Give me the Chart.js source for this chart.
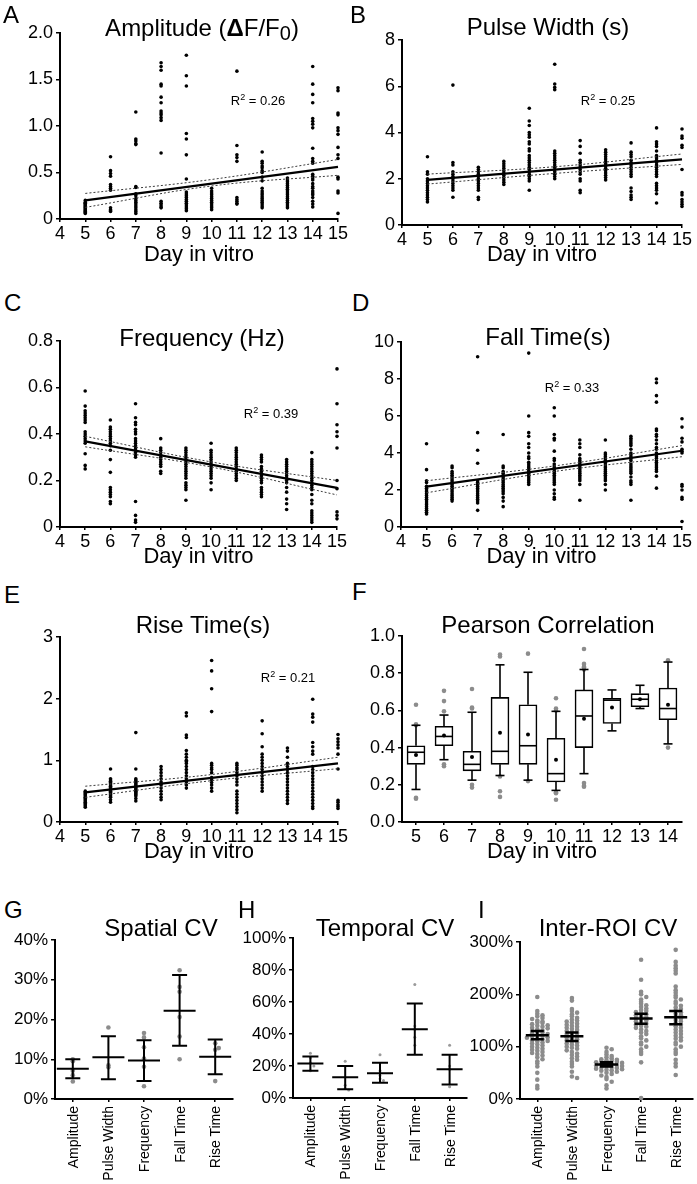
<!DOCTYPE html>
<html>
<head>
<meta charset="utf-8">
<title>Calcium pulse properties vs day in vitro</title>
<script src="https://cdn.jsdelivr.net/npm/chart.js@4.4.1/dist/chart.umd.min.js"></script>
<style>
  body { margin: 0; width: 697px; height: 1184px; position: relative; overflow: hidden; background: #fff;
         font-family: "Liberation Sans", Arial, sans-serif; color: #000; }
  canvas { position: absolute; }
  .txt { position: absolute; white-space: nowrap; transform: translate(-50%, -50%); line-height: 1; z-index: 2; }
  .letter { position: absolute; font-size: 24px; line-height: 1; transform: translateY(-50%); z-index: 2; }
  .title { font-size: 24px; }
  .r2 { font-size: 13px; }
  .r2 sup { font-size: 9px; vertical-align: 5px; line-height: 0; }
  .sub { font-size: 20px; position: relative; top: 4px; }
  .vlab { position: absolute; font-size: 14px; line-height: 14px; writing-mode: vertical-rl;
          transform: rotate(180deg); white-space: nowrap; z-index: 2; }
</style>
</head>
<body>
<div class="letter" style="left:3px;top:15px">A</div>
<div class="letter" style="left:350px;top:15px">B</div>
<div class="letter" style="left:4px;top:303px">C</div>
<div class="letter" style="left:352px;top:303px">D</div>
<div class="letter" style="left:4px;top:595px">E</div>
<div class="letter" style="left:352px;top:592px">F</div>
<div class="letter" style="left:4px;top:910px">G</div>
<div class="letter" style="left:238px;top:910px">H</div>
<div class="letter" style="left:478px;top:910px">I</div>

<div class="txt title" style="left:202px;top:28px">Amplitude (<b>&Delta;</b>F/F<span class="sub">0</span>)</div>
<div class="txt title" style="left:548px;top:27px">Pulse Width (s)</div>
<div class="txt title" style="left:202px;top:338px">Frequency (Hz)</div>
<div class="txt title" style="left:548px;top:337px">Fall Time(s)</div>
<div class="txt title" style="left:203px;top:625px">Rise Time(s)</div>
<div class="txt title" style="left:548px;top:625px">Pearson Correlation</div>
<div class="txt title" style="left:161px;top:928px">Spatial CV</div>
<div class="txt title" style="left:385px;top:928px">Temporal CV</div>
<div class="txt title" style="left:608px;top:928px">Inter-ROI CV</div>

<div class="txt r2" style="left:258px;top:100px">R<sup>2</sup> = 0.26</div>
<div class="txt r2" style="left:608px;top:100px">R<sup>2</sup> = 0.25</div>
<div class="txt r2" style="left:271px;top:413px">R<sup>2</sup> = 0.39</div>
<div class="txt r2" style="left:572px;top:387px">R<sup>2</sup> = 0.33</div>
<div class="txt r2" style="left:288px;top:677px">R<sup>2</sup> = 0.21</div>

<script>
// ---- data: panels A-E, one list of values per day in vitro ----
const days = [5, 6, 7, 8, 9, 10, 11, 12, 13, 14, 15];
const fitDays = [5, 15];
const bandDays = [5, 10, 15];

const ampByDay = [
  [0.20, 0.18, 0.17, 0.16, 0.15, 0.14, 0.13, 0.12, 0.11, 0.10, 0.09, 0.08, 0.07, 0.06],
  [0.67, 0.52, 0.49, 0.46, 0.37, 0.35, 0.33, 0.31, 0.12, 0.10, 0.09, 0.08],
  [1.15, 0.86, 0.84, 0.81, 0.80, 0.35, 0.34, 0.27, 0.25, 0.22, 0.20, 0.18, 0.16, 0.14, 0.12, 0.10, 0.08, 0.06],
  [1.68, 1.64, 1.60, 1.45, 1.43, 1.31, 1.25, 1.16, 1.14, 1.12, 1.09, 1.06, 0.71, 0.19, 0.17, 0.15, 0.13, 0.12],
  [1.76, 1.54, 1.43, 0.92, 0.86, 0.69, 0.43, 0.29, 0.27, 0.25, 0.23, 0.21, 0.19, 0.17, 0.15, 0.13, 0.11, 0.09],
  [0.33, 0.30, 0.28, 0.26, 0.24, 0.22, 0.20, 0.18, 0.16, 0.14, 0.12, 0.10],
  [1.59, 0.79, 0.69, 0.66, 0.62, 0.23, 0.21, 0.19, 0.17, 0.16],
  [0.72, 0.62, 0.60, 0.57, 0.55, 0.52, 0.50, 0.45, 0.41, 0.33, 0.30, 0.28, 0.26, 0.24, 0.22, 0.20, 0.18, 0.16, 0.14, 0.12],
  [0.44, 0.42, 0.40, 0.38, 0.36, 0.34, 0.32, 0.30, 0.28, 0.26, 0.24, 0.22, 0.20, 0.18, 0.16, 0.14, 0.12],
  [1.64, 1.45, 1.34, 1.25, 1.08, 1.05, 1.02, 0.98, 0.76, 0.65, 0.62, 0.60, 0.48, 0.46, 0.44, 0.42, 0.38, 0.35, 0.33, 0.30, 0.28, 0.26, 0.23, 0.19, 0.16, 0.13],
  [1.41, 1.38, 1.14, 1.12, 0.98, 0.95, 0.91, 0.77, 0.69, 0.65, 0.45, 0.43, 0.30, 0.28, 0.06]
];
const ampFit = [0.20, 0.56];
const ampUpper = [0.275, 0.425, 0.64];
const ampLower = [0.125, 0.355, 0.47];

const widthByDay = [
  [2.95, 2.3, 2.2, 2.0, 1.9, 1.8, 1.7, 1.6, 1.5, 1.4, 1.3, 1.2, 1.1, 1.0],
  [6.05, 2.7, 2.6, 2.3, 2.2, 2.1, 2.0, 1.9, 1.8, 1.7, 1.6, 1.5, 1.2],
  [2.5, 2.4, 2.3, 2.2, 2.1, 2.0, 1.9, 1.8, 1.7, 1.6, 1.5, 1.2, 1.1],
  [2.75, 2.65, 2.55, 2.45, 2.35, 2.25, 2.15, 2.05, 1.95, 1.85, 1.75],
  [5.05, 4.5, 4.3, 4.0, 3.9, 3.8, 3.6, 3.5, 3.3, 3.2, 3.0, 2.9, 2.8, 2.7, 2.6, 2.5, 2.4, 2.3, 2.2, 2.1, 2.0, 1.9, 1.5],
  [6.95, 6.1, 5.95, 5.85, 3.2, 3.1, 3.0, 2.9, 2.8, 2.7, 2.6, 2.5, 2.4, 2.3, 2.2, 2.1, 2.0],
  [3.65, 3.4, 3.1, 2.8, 2.7, 2.6, 2.5, 2.4, 2.3, 2.2, 2.0, 1.9, 1.5, 1.4],
  [3.25, 3.15, 3.05, 2.95, 2.85, 2.75, 2.65, 2.55, 2.45, 2.35, 2.25, 2.15, 2.05, 1.95],
  [3.55, 3.15, 3.05, 2.95, 2.8, 2.7, 2.6, 2.5, 2.4, 2.3, 2.2, 2.1, 1.6, 1.45, 1.3, 1.2, 1.1],
  [4.2, 3.6, 3.5, 3.4, 3.2, 3.0, 2.9, 2.8, 2.7, 2.6, 2.5, 2.4, 2.3, 2.2, 2.1, 1.8, 1.7, 1.6, 1.5, 1.35, 0.95],
  [4.15, 3.85, 3.75, 3.45, 3.35, 2.4, 1.4, 1.3, 1.1, 1.0, 0.9, 0.8]
];
const widthFit = [1.95, 2.84];
const widthUpper = [2.2, 2.52, 3.07];
const widthLower = [1.77, 2.23, 2.62];

const freqByDay = [
  [0.585, 0.52, 0.50, 0.49, 0.48, 0.47, 0.46, 0.45, 0.41, 0.40, 0.39, 0.38, 0.37, 0.36, 0.315, 0.265, 0.25],
  [0.46, 0.43, 0.42, 0.41, 0.40, 0.39, 0.38, 0.37, 0.36, 0.35, 0.33, 0.29, 0.235, 0.17, 0.16, 0.15, 0.14, 0.13, 0.11, 0.10],
  [0.53, 0.47, 0.45, 0.44, 0.42, 0.41, 0.40, 0.38, 0.37, 0.36, 0.35, 0.34, 0.33, 0.32, 0.31, 0.30, 0.11, 0.05, 0.03, 0.02],
  [0.38, 0.34, 0.33, 0.32, 0.31, 0.30, 0.29, 0.28, 0.27, 0.26, 0.24, 0.23],
  [0.34, 0.33, 0.32, 0.31, 0.30, 0.29, 0.28, 0.27, 0.26, 0.25, 0.24, 0.23, 0.22, 0.21, 0.19, 0.18, 0.17, 0.16, 0.115],
  [0.36, 0.33, 0.32, 0.31, 0.30, 0.29, 0.28, 0.27, 0.26, 0.25, 0.24, 0.23, 0.22, 0.21, 0.19, 0.16],
  [0.34, 0.33, 0.32, 0.31, 0.30, 0.29, 0.28, 0.27, 0.26, 0.25, 0.24, 0.23, 0.22, 0.21, 0.20],
  [0.31, 0.30, 0.29, 0.28, 0.26, 0.25, 0.24, 0.23, 0.22, 0.21, 0.20, 0.19, 0.17, 0.16, 0.15, 0.14, 0.13],
  [0.29, 0.28, 0.27, 0.26, 0.25, 0.24, 0.23, 0.22, 0.21, 0.20, 0.19, 0.17, 0.15, 0.12, 0.10, 0.075],
  [0.32, 0.29, 0.28, 0.27, 0.26, 0.25, 0.24, 0.23, 0.22, 0.21, 0.20, 0.19, 0.18, 0.17, 0.16, 0.14, 0.115, 0.10, 0.07, 0.06, 0.05, 0.04, 0.03, 0.02],
  [0.68, 0.53, 0.44, 0.41, 0.39, 0.34, 0.20, 0.165, 0.065, 0.05, 0.035]
];
const freqFit = [0.368, 0.168];
const freqUpper = [0.39, 0.28, 0.20];
const freqLower = [0.345, 0.258, 0.138];

const fallByDay = [
  [4.5, 3.1, 2.5, 2.4, 2.2, 2.1, 2.0, 1.9, 1.8, 1.7, 1.6, 1.5, 1.4, 1.3, 1.2, 1.1, 1.0, 0.9, 0.8, 0.7],
  [3.3, 3.2, 3.0, 2.9, 2.8, 2.7, 2.6, 2.5, 2.4, 2.3, 2.2, 2.1, 2.0, 1.9, 1.8, 1.7, 1.6, 1.5, 1.4],
  [9.2, 5.1, 4.15, 3.45, 2.5, 2.4, 2.3, 2.2, 2.1, 2.0, 1.9, 1.8, 1.7, 1.6, 1.5, 1.4, 1.3, 0.9],
  [5.0, 3.3, 3.2, 3.0, 2.9, 2.8, 2.7, 2.6, 2.5, 2.4, 2.3, 2.2, 2.1, 2.0, 1.9, 1.8, 1.6, 1.4, 1.1],
  [9.4, 6.0, 5.1, 4.9, 4.5, 4.3, 4.0, 3.8, 3.7, 3.5, 3.4, 3.3, 3.2, 3.1, 3.0, 2.9, 2.8, 2.7, 2.6, 2.5, 2.4, 2.3],
  [6.45, 6.0, 5.0, 4.8, 4.7, 4.1, 3.7, 3.6, 3.4, 3.3, 3.2, 3.1, 3.0, 2.9, 2.8, 2.7, 2.6, 2.5, 2.4, 2.3, 2.0, 1.8, 1.6, 1.5],
  [4.7, 4.5, 4.3, 3.9, 3.7, 3.6, 3.5, 3.4, 3.3, 3.2, 3.1, 3.0, 2.9, 2.8, 2.7, 2.6, 2.5, 2.3, 1.45],
  [4.7, 4.0, 3.9, 3.8, 3.7, 3.6, 3.5, 3.4, 3.3, 3.2, 3.1, 3.0, 2.9, 2.8, 2.7, 2.6, 2.5, 2.3, 2.0],
  [4.9, 4.8, 4.7, 4.6, 4.5, 4.4, 4.2, 4.0, 3.9, 3.8, 3.7, 3.6, 3.4, 3.3, 3.2, 3.1, 3.0, 2.9, 2.7, 2.5, 2.4, 2.3, 1.45],
  [8.0, 7.8, 7.1, 6.75, 5.3, 5.2, 5.0, 4.9, 4.7, 4.5, 4.3, 4.2, 4.0, 3.9, 3.8, 3.7, 3.6, 3.5, 3.4, 3.3, 3.2, 3.1, 3.0, 2.75, 2.1],
  [5.85, 5.4, 4.8, 4.6, 4.2, 4.1, 4.0, 2.3, 2.2, 2.0, 1.6, 1.5, 0.3]
];
const fallFit = [2.18, 4.12];
const fallUpper = [2.5, 3.3, 4.4];
const fallLower = [1.85, 3.0, 3.8];

const riseByDay = [
  [0.50, 0.48, 0.46, 0.44, 0.42, 0.40, 0.38, 0.36, 0.34, 0.32, 0.30, 0.28, 0.26, 0.24],
  [0.86, 0.70, 0.68, 0.66, 0.64, 0.62, 0.60, 0.58, 0.56, 0.54, 0.52, 0.50, 0.48, 0.46, 0.44, 0.42, 0.40, 0.36, 0.32],
  [1.45, 0.86, 0.70, 0.68, 0.66, 0.64, 0.62, 0.60, 0.58, 0.56, 0.54, 0.52, 0.50, 0.48, 0.46, 0.44, 0.42, 0.38, 0.34],
  [0.90, 0.85, 0.80, 0.75, 0.70, 0.65, 0.62, 0.60, 0.55, 0.50, 0.45, 0.40, 0.36],
  [1.77, 1.72, 1.41, 1.37, 1.16, 1.10, 1.05, 1.00, 0.98, 0.95, 0.90, 0.85, 0.80, 0.75, 0.70, 0.65, 0.60, 0.55],
  [2.62, 2.45, 2.16, 1.79, 0.95, 0.92, 0.88, 0.85, 0.80, 0.72, 0.68, 0.64, 0.60, 0.55, 0.50],
  [0.95, 0.92, 0.88, 0.85, 0.80, 0.75, 0.70, 0.65, 0.60, 0.50, 0.45, 0.40, 0.35, 0.30, 0.25, 0.20, 0.15],
  [1.64, 1.43, 1.22, 1.10, 1.05, 1.00, 0.95, 0.90, 0.85, 0.80, 0.75, 0.70, 0.65, 0.60, 0.55, 0.50],
  [1.20, 1.15, 1.05, 0.95, 0.90, 0.85, 0.80, 0.75, 0.70, 0.65, 0.60, 0.55, 0.50, 0.45, 0.40, 0.35, 0.30],
  [1.99, 1.75, 1.70, 1.62, 1.29, 1.22, 1.15, 1.10, 0.90, 0.85, 0.80, 0.75, 0.70, 0.65, 0.60, 0.55, 0.50, 0.45, 0.40, 0.35, 0.30, 0.25, 0.22],
  [1.42, 1.35, 1.30, 1.25, 1.20, 1.10, 0.86, 0.35, 0.32, 0.28, 0.25, 0.22]
];
const riseFit = [0.48, 0.95];
const riseUpper = [0.58, 0.77, 1.05];
const riseLower = [0.40, 0.67, 0.865];

// ---- data: panel F box plot ----
const fDays = ['5', '6', '7', '8', '9', '10', '11', '12', '13', '14'];
const fQ1 = [0.31, 0.41, 0.275, 0.31, 0.31, 0.215, 0.40, 0.53, 0.62, 0.55];
const fQ3 = [0.41, 0.515, 0.38, 0.67, 0.63, 0.45, 0.71, 0.665, 0.69, 0.72];
const fMedian = [0.375, 0.46, 0.31, 0.38, 0.41, 0.26, 0.57, 0.655, 0.66, 0.61];
const fMean = [0.36, 0.465, 0.35, 0.48, 0.47, 0.335, 0.555, 0.615, 0.66, 0.63];
const fWhiskLo = [0.175, 0.335, 0.225, 0.25, 0.225, 0.17, 0.26, 0.49, 0.61, 0.42];
const fWhiskHi = [0.52, 0.575, 0.59, 0.845, 0.805, 0.595, 0.82, 0.71, 0.735, 0.86];
const fOutDay = ['5', '5', '5', '5', '5', '6', '6', '6', '6', '6', '7', '7', '7', '7', '7',
  '8', '8', '8', '8', '8', '9', '9', '10', '10', '10', '10', '10', '10',
  '11', '11', '11', '11', '11', '11', '11', '11', '14', '14'];
const fOutVal = [0.63, 0.525, 0.52, 0.13, 0.125, 0.705, 0.65, 0.595, 0.31, 0.30, 0.715, 0.615, 0.61, 0.20, 0.185,
  0.90, 0.89, 0.245, 0.165, 0.135, 0.905, 0.22, 0.665, 0.61, 0.60, 0.16, 0.155, 0.12,
  0.93, 0.85, 0.835, 0.83, 0.82, 0.21, 0.195, 0.19, 0.87, 0.40];

// ---- data: panels G-I (percent) ----
const cvCats = ['Amplitude', 'Pulse Width', 'Frequency', 'Fall Time', 'Rise Time'];

const spatialMean = [7.6, 10.5, 9.7, 22.2, 10.6];
const spatialLo = [5.2, 5.0, 4.5, 13.4, 6.2];
const spatialHi = [10.0, 15.8, 14.8, 31.2, 15.0];
const spatialPts = [
  [10.0, 9.5, 7.1, 6.0, 4.4],
  [18.0, 8.5, 8.0],
  [16.6, 15.5, 13.0, 10.2, 8.1, 3.2],
  [32.4, 28.2, 27.0, 20.6, 15.7, 10.0],
  [14.0, 12.8, 12.4, 4.5]
];

const temporalMean = [21.5, 13, 15.5, 43, 18];
const temporalLo = [17, 5.5, 9.5, 27, 8.5];
const temporalHi = [26, 20, 22, 59, 27];
const temporalPts = [
  [28, 25, 22, 20, 17],
  [23, 8, 6, 5],
  [27, 17, 14, 12, 11],
  [71, 45, 43, 38, 33],
  [33, 20, 18, 7]
];

const roiMean = [122, 120, 66, 154, 156];
const roiLo = [114, 111, 62, 144, 143];
const roiHi = [130, 127, 70, 163, 168];
const roiPts = [
  [195, 168, 163, 160, 158, 155, 153, 150, 148, 146, 145, 143, 141, 140, 138, 136, 135, 133, 131, 130, 128, 127, 125, 124,
   122, 121, 120, 118, 117, 115, 114, 112, 111, 110, 108, 106, 104, 102, 100, 98, 96, 94, 92, 90, 88, 86, 83, 80, 76, 72,
   68, 62, 50, 37, 25, 20],
  [193, 188, 172, 168, 165, 162, 158, 155, 152, 150, 148, 146, 144, 142, 140, 138, 136, 134, 132, 130, 128, 126, 124, 122,
   120, 118, 116, 114, 112, 110, 108, 106, 104, 102, 100, 98, 96, 93, 90, 87, 84, 81, 78, 75, 71, 67, 62, 52, 43, 40],
  [98, 95, 90, 85, 82, 80, 78, 76, 75, 74, 73, 72, 71, 70, 69, 68, 67, 66, 65, 64, 63, 62, 61, 60, 59, 58, 57, 56, 55, 54,
   52, 50, 48, 45, 42, 38, 33, 26, 20],
  [266, 228, 205, 200, 195, 190, 186, 182, 179, 176, 173, 170, 168, 166, 164, 162, 160, 158, 156, 154, 152, 150, 148, 146,
   144, 142, 140, 138, 136, 133, 130, 127, 124, 120, 116, 112, 108, 104, 100, 95, 90, 86, 70, 2],
  [285, 262, 255, 250, 245, 240, 215, 208, 203, 198, 194, 190, 186, 182, 178, 175, 172, 169, 166, 163, 160, 157, 154, 151,
   148, 145, 142, 139, 136, 133, 130, 127, 124, 121, 118, 115, 112, 108, 104, 100, 95, 90, 86, 75, 68, 62, 46]
];

Chart.defaults.font.family = '"Liberation Sans", Arial, sans-serif';
Chart.defaults.color = '#000';
Chart.defaults.animation = false;
Chart.defaults.plugins.legend.display = false;
Chart.defaults.plugins.tooltip.enabled = false;

var PAD_L = 70, PAD_T = 14, PAD_R = 16;

// canvas placed so that the chart area lands on the given page rectangle
function makeCanvas(area, xH) {
  var c = document.createElement('canvas');
  c.width = area.r - area.l + PAD_L + PAD_R;
  c.height = area.b - area.t + PAD_T + xH;
  c.style.left = (area.l - PAD_L) + 'px';
  c.style.top = (area.t - PAD_T) + 'px';
  document.body.appendChild(c);
  return c;
}

function fixSize(prop, v) {
  return function(s) {
    s[prop] = v;
    s.paddingLeft = 0; s.paddingRight = 0; s.paddingTop = 0; s.paddingBottom = 0;
  };
}

function baseOptions() {
  return {
    responsive: false,
    devicePixelRatio: 1,
    events: [],
    layout: { padding: { left: 0, top: PAD_T, right: PAD_R, bottom: 0 } }
  };
}

function yAxis(min, max, step, fmt, size) {
  return {
    min: min, max: max,
    ticks: { stepSize: step, callback: fmt, font: { size: size }, padding: 3 },
    grid: { drawOnChartArea: false, tickLength: 4, color: '#000', lineWidth: 1.5 },
    border: { color: '#000', width: 2 },
    afterFit: fixSize('width', PAD_L)
  };
}

function dayAxis(xH) {
  return {
    type: 'linear', min: 4, max: 15,
    ticks: { stepSize: 1, font: { size: 18 }, padding: 1, maxRotation: 0, autoSkip: false },
    grid: { drawOnChartArea: false, tickLength: 3, color: '#000', lineWidth: 1.5 },
    border: { color: '#000', width: 2 },
    title: { display: true, text: 'Day in vitro', font: { size: 22 }, padding: 0 },
    afterFit: fixSize('height', xH)
  };
}

function oneDecimal(v) { return v === 0 ? '0' : v.toFixed(1); }
function integer(v) { return String(v); }
function percent(v) { return v + '%'; }

function scatterPanel(area, xH, byDay, fit, upper, lower, yOpts) {
  var pts = [];
  days.forEach(function(d, i) {
    byDay[i].forEach(function(v) { pts.push({ x: d, y: v }); });
  });
  var band = function(vals) {
    return { data: bandDays.map(function(d, i) { return { x: d, y: vals[i] }; }),
      showLine: true, borderColor: '#3a3a3a', borderWidth: 1, borderDash: [2, 2],
      pointRadius: 0, tension: 0.4, order: 2, clip: false };
  };
  var opts = baseOptions();
  opts.scales = { x: dayAxis(xH), y: yOpts };
  new Chart(makeCanvas(area, xH), {
    type: 'scatter',
    data: {
      datasets: [
        { data: pts, pointRadius: 1.8, backgroundColor: '#000', borderWidth: 0, order: 3, clip: false },
        { data: fitDays.map(function(d, i) { return { x: d, y: fit[i] }; }),
          showLine: true, borderColor: '#000', borderWidth: 2.2, pointRadius: 0, order: 1, clip: false },
        band(upper),
        band(lower)
      ]
    },
    options: opts
  });
}

scatterPanel({ l: 60, t: 33, r: 338, b: 219 }, 49, ampByDay, ampFit, ampUpper, ampLower,
  yAxis(0, 2, 0.5, oneDecimal, 18));
scatterPanel({ l: 402, t: 40, r: 682, b: 225 }, 43, widthByDay, widthFit, widthUpper, widthLower,
  yAxis(0, 8, 2, integer, 18));
scatterPanel({ l: 60, t: 341, r: 337, b: 527 }, 43, freqByDay, freqFit, freqUpper, freqLower,
  yAxis(0, 0.8, 0.2, oneDecimal, 18));
scatterPanel({ l: 401, t: 342, r: 682, b: 527 }, 43, fallByDay, fallFit, fallUpper, fallLower,
  yAxis(0, 10, 2, integer, 18));
scatterPanel({ l: 60, t: 637, r: 338, b: 822 }, 43, riseByDay, riseFit, riseUpper, riseLower,
  yAxis(0, 3, 1, integer, 18));

// ---- F: box plot; boxes are floating bars, whiskers + medians via plugin ----
var BOX_W = 18;
var boxPlugin = {
  id: 'whiskers',
  afterDatasetsDraw: function(chart) {
    var x = chart.scales.x, y = chart.scales.y, ctx = chart.ctx;
    ctx.save();
    ctx.strokeStyle = '#000';
    ctx.lineWidth = 1.6;
    fDays.forEach(function(d, i) {
      var px = x.getPixelForValue(i);
      var seg = function(x1, y1, x2, y2) { ctx.beginPath(); ctx.moveTo(x1, y1); ctx.lineTo(x2, y2); ctx.stroke(); };
      seg(px, y.getPixelForValue(fQ3[i]), px, y.getPixelForValue(fWhiskHi[i]));
      seg(px, y.getPixelForValue(fQ1[i]), px, y.getPixelForValue(fWhiskLo[i]));
      seg(px - 4.5, y.getPixelForValue(fWhiskHi[i]), px + 4.5, y.getPixelForValue(fWhiskHi[i]));
      seg(px - 4.5, y.getPixelForValue(fWhiskLo[i]), px + 4.5, y.getPixelForValue(fWhiskLo[i]));
      seg(px - BOX_W / 2, y.getPixelForValue(fMedian[i]), px + BOX_W / 2, y.getPixelForValue(fMedian[i]));
    });
    ctx.restore();
  }
};

(function() {
  var opts = baseOptions();
  opts.scales = {
    x: {
      type: 'category', offset: true,
      ticks: { font: { size: 18 }, padding: 1, maxRotation: 0, autoSkip: false },
      grid: { offset: false, drawOnChartArea: false, tickLength: 3, color: '#000', lineWidth: 1.5 },
      border: { color: '#000', width: 2 },
      title: { display: true, text: 'Day in vitro', font: { size: 22 }, padding: 0 },
      afterFit: fixSize('height', 43)
    },
    y: yAxis(0, 1, 0.2, function(v) { return v.toFixed(1); }, 18)
  };
  new Chart(makeCanvas({ l: 402, t: 636, r: 682, b: 822 }, 43), {
    type: 'bar',
    data: {
      labels: fDays,
      datasets: [
        { type: 'bar', data: fDays.map(function(d, i) { return [fQ1[i], fQ3[i]]; }),
          backgroundColor: '#fff', borderColor: '#000', borderWidth: 1.6, borderSkipped: false,
          barThickness: BOX_W, order: 3 },
        { type: 'line', data: fOutDay.map(function(d, i) { return { x: d, y: fOutVal[i] }; }),
          showLine: false, pointRadius: 2.3, pointBackgroundColor: '#8c8c8c', pointBorderWidth: 0, order: 2, clip: false },
        { type: 'line', data: fMean, showLine: false, pointRadius: 2, pointBackgroundColor: '#000',
          pointBorderWidth: 0, order: 1 }
      ]
    },
    options: opts,
    plugins: [boxPlugin]
  });
})();

// ---- G-I: mean +/- error with individual points ----
// spread points that share a value band sideways (beeswarm)
function swarm(vals, bin, dx) {
  var count = {};
  return vals.map(function(v) {
    var k = Math.round(v / bin);
    var n = count[k] = (count[k] || 0) + 1;
    var off = n === 1 ? 0 : (n % 2 === 0 ? 1 : -1) * Math.floor(n / 2) * dx;
    return { v: v, dx: off };
  });
}

function meanErrPlugin(means, lo, hi, meanHalf, capHalf, lw) {
  return {
    id: 'meanErr',
    afterDatasetsDraw: function(chart) {
      var x = chart.scales.x, y = chart.scales.y, ctx = chart.ctx;
      ctx.save();
      ctx.strokeStyle = '#000';
      ctx.lineWidth = lw;
      means.forEach(function(m, i) {
        var px = x.getPixelForValue(i);
        var yHi = y.getPixelForValue(hi[i]), yLo = y.getPixelForValue(lo[i]), yM = y.getPixelForValue(m);
        ctx.beginPath();
        ctx.moveTo(px, yHi); ctx.lineTo(px, yLo);
        ctx.moveTo(px - capHalf, yHi); ctx.lineTo(px + capHalf, yHi);
        ctx.moveTo(px - capHalf, yLo); ctx.lineTo(px + capHalf, yLo);
        ctx.moveTo(px - meanHalf, yM); ctx.lineTo(px + meanHalf, yM);
        ctx.stroke();
      });
      ctx.restore();
    }
  };
}

function cvPanel(area, means, lo, hi, pts, yMax, yStep, st) {
  var data = [];
  pts.forEach(function(vals, i) {
    swarm(vals, st.bin, st.dx).forEach(function(p) { data.push({ x: i + p.dx, y: p.v }); });
  });
  var opts = baseOptions();
  opts.scales = {
    x: {
      type: 'linear', min: -0.5, max: 4.5,
      afterBuildTicks: function(s) { s.ticks = cvCats.map(function(c, i) { return { value: i }; }); },
      ticks: { display: false },
      grid: { drawOnChartArea: false, tickLength: 3, color: '#000', lineWidth: 1.5 },
      border: { color: '#000', width: 2 },
      afterFit: fixSize('height', 85)
    },
    y: yAxis(0, yMax, yStep, percent, 17)
  };
  var chart = new Chart(makeCanvas(area, 85), {
    type: 'scatter',
    data: { datasets: [{ data: data, pointRadius: st.r, backgroundColor: st.color, borderWidth: 0, clip: false }] },
    options: opts,
    plugins: [meanErrPlugin(means, lo, hi, st.meanHalf, st.capHalf, st.lw)]
  });

  // vertical category names, read bottom to top, hung under the x axis ticks
  var xs = chart.scales.x;
  cvCats.forEach(function(c, i) {
    var d = document.createElement('div');
    d.className = 'vlab';
    d.textContent = c;
    d.style.left = (area.l - PAD_L + xs.getPixelForValue(i) - 7) + 'px';
    d.style.top = (area.t - PAD_T + xs.top + 7) + 'px';
    document.body.appendChild(d);
  });
}

cvPanel({ l: 55, t: 940, r: 233, b: 1099 }, spatialMean, spatialLo, spatialHi, spatialPts, 40, 10,
  { bin: 1.5, dx: 0.1, r: 2.3, color: '#8c8c8c', meanHalf: 16, capHalf: 7.5, lw: 2 });
cvPanel({ l: 293, t: 938, r: 467, b: 1098 }, temporalMean, temporalLo, temporalHi, temporalPts, 100, 20,
  { bin: 3, dx: 0.1, r: 1.5, color: '#9a9a9a', meanHalf: 13, capHalf: 8, lw: 2 });
cvPanel({ l: 520, t: 942, r: 693, b: 1099 }, roiMean, roiLo, roiHi, roiPts, 300, 100,
  { bin: 6, dx: 0.15, r: 2.3, color: '#8c8c8c', meanHalf: 11.5, capHalf: 6.5, lw: 2.5 });
</script>
</body>
</html>
